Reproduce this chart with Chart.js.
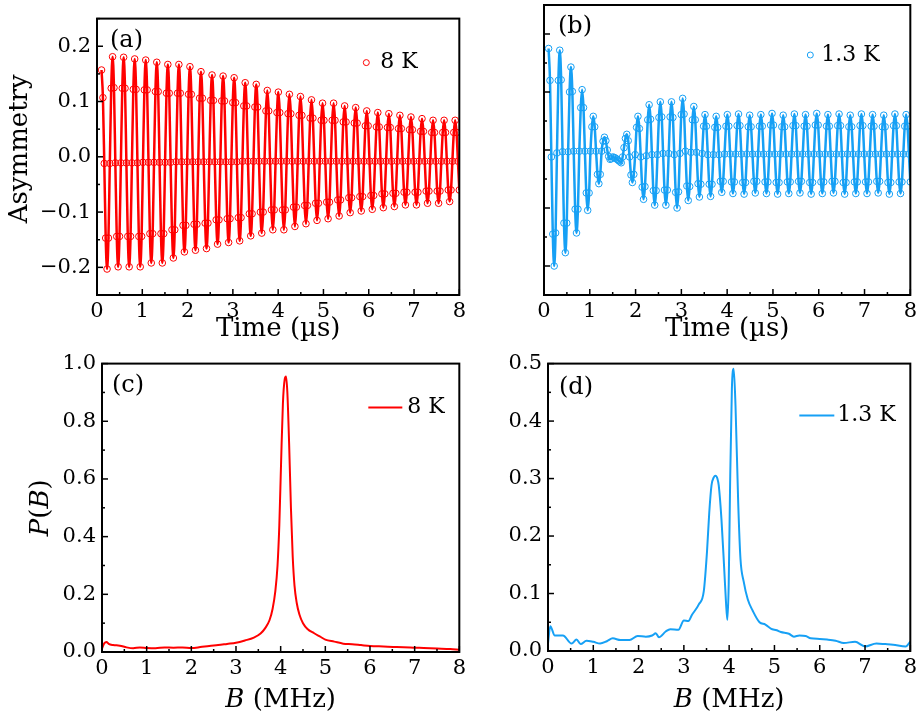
<!DOCTYPE html>
<html>
<head>
<meta charset="utf-8">
<script src="https://cdn.jsdelivr.net/npm/chart.js@4.4.0/dist/chart.umd.min.js"></script>
<style>
  body { margin: 0; background: #fff; }
  #wrap { position: relative; width: 921px; height: 717px; }
  canvas { position: absolute; }
</style>
</head>
<body>
<div id="wrap">
  <canvas id="cA" width="470" height="355" style="left:0;top:0;width:470px;height:355px"></canvas>
  <canvas id="cB" width="451" height="355" style="left:470px;top:0;width:451px;height:355px"></canvas>
  <canvas id="cC" width="470" height="372" style="left:0;top:345px;width:470px;height:372px"></canvas>
  <canvas id="cD" width="451" height="372" style="left:470px;top:345px;width:451px;height:372px"></canvas>
</div>
<script>
// ---- data ----
// time (us); one row = one precession period, 8 samples per row
const timeUs = [
  0.100,0.131,0.161,0.192,0.222,0.253,0.283,0.314,
  0.344,0.375,0.405,0.436,0.466,0.497,0.527,0.558,
  0.588,0.619,0.649,0.680,0.710,0.741,0.771,0.802,
  0.832,0.863,0.893,0.924,0.954,0.985,1.015,1.046,
  1.076,1.107,1.137,1.168,1.198,1.229,1.259,1.290,
  1.320,1.351,1.381,1.412,1.442,1.473,1.503,1.534,
  1.564,1.595,1.625,1.656,1.686,1.717,1.747,1.778,
  1.808,1.839,1.869,1.900,1.930,1.961,1.991,2.022,
  2.052,2.083,2.113,2.144,2.174,2.205,2.235,2.266,
  2.296,2.327,2.357,2.388,2.418,2.449,2.479,2.510,
  2.540,2.571,2.601,2.632,2.662,2.693,2.723,2.754,
  2.784,2.815,2.845,2.876,2.906,2.937,2.967,2.998,
  3.028,3.059,3.089,3.120,3.150,3.181,3.211,3.242,
  3.272,3.303,3.333,3.364,3.394,3.425,3.455,3.486,
  3.516,3.547,3.577,3.608,3.638,3.669,3.699,3.730,
  3.760,3.791,3.821,3.852,3.882,3.913,3.943,3.974,
  4.004,4.035,4.065,4.096,4.126,4.157,4.187,4.218,
  4.248,4.279,4.309,4.340,4.370,4.401,4.431,4.462,
  4.492,4.523,4.553,4.584,4.614,4.645,4.675,4.706,
  4.736,4.767,4.797,4.828,4.858,4.889,4.919,4.950,
  4.980,5.011,5.041,5.072,5.102,5.133,5.163,5.194,
  5.224,5.255,5.285,5.316,5.346,5.377,5.407,5.438,
  5.468,5.499,5.529,5.560,5.590,5.621,5.651,5.682,
  5.712,5.743,5.773,5.804,5.834,5.865,5.895,5.926,
  5.956,5.987,6.017,6.048,6.078,6.109,6.139,6.170,
  6.200,6.231,6.261,6.292,6.322,6.353,6.383,6.414,
  6.444,6.475,6.505,6.536,6.566,6.597,6.627,6.658,
  6.688,6.719,6.749,6.780,6.810,6.841,6.871,6.902,
  6.932,6.963,6.993,7.024,7.054,7.085,7.115,7.146,
  7.176,7.207,7.237,7.268,7.298,7.329,7.359,7.390,
  7.420,7.451,7.481,7.512,7.542,7.573,7.603,7.634,
  7.664,7.695,7.725,7.756,7.786,7.817,7.847,7.878,
  7.908,7.939,7.969,8.000
];

// asymmetry at 8 K, panel (a)
const asym8K = [
  0.157, 0.107,-0.012,-0.147,-0.203,-0.147,-0.012, 0.124,
  0.181, 0.125,-0.011,-0.144,-0.199,-0.144,-0.011, 0.124,
  0.180, 0.124,-0.011,-0.144,-0.199,-0.144,-0.011, 0.122,
  0.177, 0.122,-0.011,-0.144,-0.199,-0.144,-0.010, 0.121,
  0.175, 0.121,-0.010,-0.139,-0.192,-0.139,-0.010, 0.118,
  0.171, 0.118,-0.010,-0.139,-0.192,-0.139,-0.010, 0.115,
  0.167, 0.115,-0.010,-0.132,-0.183,-0.132,-0.009, 0.115,
  0.167, 0.115,-0.009,-0.124,-0.172,-0.124,-0.009, 0.113,
  0.163, 0.113,-0.009,-0.122,-0.169,-0.122,-0.009, 0.106,
  0.154, 0.106,-0.009,-0.120,-0.166,-0.120,-0.009, 0.102,
  0.148, 0.102,-0.009,-0.114,-0.158,-0.114,-0.009, 0.101,
  0.146, 0.101,-0.009,-0.112,-0.155,-0.112,-0.009, 0.098,
  0.143, 0.098,-0.009,-0.110,-0.152,-0.110,-0.008, 0.092,
  0.134, 0.092,-0.008,-0.103,-0.143,-0.103,-0.008, 0.090,
  0.131, 0.090,-0.008,-0.100,-0.138,-0.100,-0.008, 0.083,
  0.120, 0.083,-0.008,-0.096,-0.132,-0.096,-0.008, 0.080,
  0.117, 0.080,-0.008,-0.096,-0.132,-0.096,-0.008, 0.078,
  0.113, 0.078,-0.008,-0.091,-0.126,-0.091,-0.008, 0.075,
  0.109, 0.075,-0.008,-0.088,-0.121,-0.088,-0.008, 0.070,
  0.103, 0.070,-0.008,-0.084,-0.115,-0.084,-0.008, 0.066,
  0.097, 0.066,-0.008,-0.082,-0.112,-0.082,-0.008, 0.066,
  0.097, 0.066,-0.008,-0.078,-0.107,-0.078,-0.008, 0.063,
  0.092, 0.063,-0.008,-0.074,-0.101,-0.074,-0.008, 0.061,
  0.089, 0.061,-0.008,-0.072,-0.098,-0.072,-0.008, 0.056,
  0.083, 0.056,-0.008,-0.070,-0.095,-0.070,-0.008, 0.054,
  0.080, 0.054,-0.008,-0.067,-0.092,-0.067,-0.008, 0.053,
  0.078, 0.053,-0.008,-0.066,-0.090,-0.066,-0.008, 0.051,
  0.075, 0.051,-0.008,-0.064,-0.087,-0.064,-0.008, 0.049,
  0.072, 0.049,-0.008,-0.064,-0.087,-0.064,-0.008, 0.046,
  0.069, 0.046,-0.008,-0.062,-0.084,-0.062,-0.008, 0.044,
  0.066, 0.044,-0.008,-0.062,-0.084,-0.062,-0.008, 0.044,
  0.066, 0.044,-0.008,-0.060,-0.081,-0.060,-0.008, 0.044,
  0.066, 0.044,-0.008,-0.060
];

// asymmetry at 1.3 K, panel (b)
const asym13K = [
  0.175, 0.120,-0.012,-0.145,-0.200,-0.143,-0.005, 0.120,
  0.172, 0.121,-0.003,-0.126,-0.177,-0.126,-0.003, 0.100,
  0.143, 0.101,-0.002,-0.102,-0.143,-0.102,-0.002, 0.073,
  0.104, 0.073,-0.002,-0.074,-0.104,-0.074,-0.002, 0.040,
  0.058, 0.040,-0.002,-0.042,-0.058,-0.042,-0.002, 0.015,
  0.022, 0.016, 0.000,-0.011,-0.016,-0.015,-0.012,-0.013,
 -0.014,-0.016,-0.018,-0.020,-0.022,-0.012, 0.004, 0.020,
  0.027, 0.016,-0.012,-0.043,-0.056,-0.042,-0.008, 0.039,
  0.058, 0.037,-0.012,-0.064,-0.085,-0.063,-0.010, 0.052,
  0.078, 0.053,-0.008,-0.070,-0.095,-0.070,-0.008, 0.056,
  0.083, 0.057,-0.006,-0.069,-0.095,-0.069,-0.006, 0.057,
  0.083, 0.056,-0.008,-0.073,-0.100,-0.072,-0.006, 0.061,
  0.089, 0.062,-0.002,-0.062,-0.087,-0.063,-0.004, 0.052,
  0.075, 0.052,-0.004,-0.058,-0.081,-0.059,-0.006, 0.041,
  0.061, 0.041,-0.008,-0.059,-0.080,-0.059,-0.008, 0.039,
  0.058, 0.039,-0.008,-0.054,-0.073,-0.054,-0.007, 0.041,
  0.061, 0.041,-0.007,-0.055,-0.075,-0.055,-0.007, 0.042,
  0.062, 0.042,-0.007,-0.056,-0.076,-0.056,-0.007, 0.040,
  0.060, 0.040,-0.007,-0.054,-0.074,-0.054,-0.007, 0.041,
  0.061, 0.041,-0.007,-0.055,-0.075,-0.055,-0.007, 0.043,
  0.063, 0.043,-0.007,-0.056,-0.076,-0.056,-0.007, 0.040,
  0.060, 0.040,-0.007,-0.055,-0.075,-0.055,-0.007, 0.042,
  0.062, 0.042,-0.007,-0.054,-0.074,-0.054,-0.007, 0.041,
  0.061, 0.041,-0.007,-0.056,-0.076,-0.056,-0.007, 0.043,
  0.063, 0.043,-0.007,-0.055,-0.075,-0.055,-0.007, 0.041,
  0.061, 0.041,-0.007,-0.054,-0.074,-0.054,-0.007, 0.042,
  0.062, 0.042,-0.007,-0.056,-0.076,-0.056,-0.007, 0.040,
  0.060, 0.040,-0.007,-0.055,-0.075,-0.055,-0.007, 0.042,
  0.062, 0.042,-0.007,-0.055,-0.075,-0.055,-0.007, 0.041,
  0.061, 0.041,-0.007,-0.054,-0.074,-0.054,-0.007, 0.040,
  0.060, 0.040,-0.007,-0.056,-0.076,-0.056,-0.007, 0.042,
  0.062, 0.042,-0.007,-0.055,-0.075,-0.055,-0.007, 0.041,
  0.061, 0.041,-0.007,-0.055
];

// field distributions P(B), panels (c) and (d)
const freq8K = [0.00,0.05,0.10,0.15,0.25,0.40,0.55,0.70,0.85,1.00,1.20,1.40,1.60,1.80,2.00,
  2.20,2.40,2.60,2.80,3.00,3.20,3.40,3.55,3.65,3.75,3.82,3.88,3.93,3.97,4.01,4.05,4.09,4.12,
  4.15,4.19,4.23,4.27,4.31,4.36,4.42,4.50,4.60,4.75,4.90,5.00,5.20,5.40,5.60,5.80,6.00,
  6.30,6.60,6.90,7.20,7.50,7.80,8.00];
const spec8K = [0.012,0.030,0.035,0.028,0.024,0.022,0.016,0.013,0.016,0.014,0.013,0.016,0.015,0.016,0.014,
  0.017,0.021,0.024,0.028,0.032,0.040,0.050,0.064,0.082,0.110,0.150,0.210,0.300,0.440,0.660,0.860,0.945,0.955,
  0.900,0.720,0.500,0.330,0.230,0.170,0.130,0.100,0.080,0.065,0.052,0.043,0.036,0.029,0.027,0.024,0.021,
  0.019,0.017,0.016,0.014,0.012,0.010,0.008];

const freq13K = [0.00,0.05,0.15,0.33,0.52,0.63,0.72,0.85,1.00,1.15,1.30,1.43,1.60,1.80,1.98,2.16,2.30,
  2.38,2.45,2.60,2.70,2.88,3.00,3.10,3.18,3.33,3.44,3.51,3.56,3.61,3.66,3.70,3.74,3.77,3.83,3.89,
  3.93,3.96,3.99,4.02,4.06,4.10,4.14,4.20,4.25,4.32,4.41,4.52,4.67,4.80,4.92,5.05,5.14,5.32,5.43,
  5.55,5.69,5.80,6.00,6.16,6.35,6.53,6.78,7.00,7.25,7.45,7.62,7.90,8.00];
const spec13K = [0.013,0.043,0.027,0.027,0.013,0.020,0.012,0.018,0.016,0.013,0.017,0.022,0.019,0.019,0.026,0.025,0.027,
  0.031,0.024,0.034,0.038,0.037,0.053,0.052,0.063,0.081,0.104,0.172,0.240,0.288,0.302,0.305,0.300,0.288,0.229,0.144,
  0.085,0.054,0.116,0.286,0.456,0.491,0.427,0.257,0.160,0.121,0.090,0.070,0.050,0.046,0.039,0.036,0.033,0.030,0.025,
  0.027,0.026,0.022,0.021,0.020,0.018,0.014,0.016,0.008,0.013,0.012,0.011,0.008,0.016];

// labelled (major) ticks
const xMajorTicks = [0, 1, 2, 3, 4, 5, 6, 7, 8];
const asymTicks = [-0.2, -0.1, 0.0, 0.1, 0.2];
const pb8KTicks = [0.0, 0.2, 0.4, 0.6, 0.8, 1.0];
const pb13KTicks = [0.0, 0.1, 0.2, 0.3, 0.4, 0.5];

// ---- styling ----
const SERIF = '"DejaVu Serif", serif';
const RED = 'rgb(255,0,0)';
const BLUE = 'rgb(22,160,245)';
const TITLE_PX = 26;

function isIn(list, v) {
  return list.some(m => Math.abs(m - v) < 1e-7);
}
function fmt1(v) {
  return v.toFixed(1).replace('-', '\u2212');
}
function pairs(xs, ys) {
  return xs.map((x, i) => ({ x: x, y: ys[i] }));
}

// draw text made of upright / italic pieces, centred on (x, y)
function drawRich(ctx, parts, x, y, vertical) {
  const fontOf = p => (p[1] ? 'italic ' : '') + TITLE_PX + 'px ' + SERIF;
  let total = 0;
  parts.forEach(p => { ctx.font = fontOf(p); total += ctx.measureText(p[0]).width; });
  ctx.save();
  ctx.translate(x, y);
  if (vertical) ctx.rotate(-Math.PI / 2);
  ctx.textAlign = 'left';
  ctx.textBaseline = 'alphabetic';
  ctx.fillStyle = '#000';
  let cx = -total / 2;
  parts.forEach(p => {
    ctx.font = fontOf(p);
    ctx.fillText(p[0], cx, 0);
    cx += ctx.measureText(p[0]).width;
  });
  ctx.restore();
}

// box frame, inward ticks, panel tag, legend and axis titles
const panelPlugin = {
  id: 'panel',
  afterDraw(chart, args, o) {
    const ctx = chart.ctx, a = chart.chartArea;
    const xs = chart.scales.x, ys = chart.scales.y;
    ctx.save();
    ctx.strokeStyle = '#000';
    ctx.lineWidth = 1.5;
    xs.ticks.forEach(t => {
      const p = xs.getPixelForValue(t.value);
      const len = isIn(o.xMajor, t.value) ? 6 : 3;
      ctx.beginPath(); ctx.moveTo(p, a.bottom); ctx.lineTo(p, a.bottom - len); ctx.stroke();
    });
    ys.ticks.forEach(t => {
      const p = ys.getPixelForValue(t.value);
      const len = isIn(o.yMajor, t.value) ? 6 : 3;
      ctx.beginPath(); ctx.moveTo(a.left, p); ctx.lineTo(a.left + len, p); ctx.stroke();
    });
    ctx.lineWidth = 2;
    ctx.strokeRect(a.left, a.top, a.right - a.left, a.bottom - a.top);

    // (a), (b) ...
    ctx.fillStyle = '#000';
    ctx.font = '24px ' + SERIF;
    ctx.textAlign = 'left';
    ctx.textBaseline = 'alphabetic';
    ctx.fillText(o.tag, a.left + o.tagDx, a.top + o.tagDy);

    // legend
    const ds = chart.data.datasets[0];
    const ly = a.top + o.legDy;
    ctx.strokeStyle = ds.borderColor;
    if (o.legLine) {
      ctx.lineWidth = 2;
      ctx.beginPath();
      ctx.moveTo(a.right - o.legX1, ly);
      ctx.lineTo(a.right - o.legX2, ly);
      ctx.stroke();
    } else {
      ctx.lineWidth = 1;
      ctx.beginPath();
      ctx.arc(a.right - o.legX1, ly, 3, 0, Math.PI * 2);
      ctx.stroke();
    }
    ctx.fillStyle = '#000';
    ctx.font = '22px ' + SERIF;
    ctx.textBaseline = 'middle';
    ctx.fillText(ds.label, a.right - o.legTextDx, ly);

    if (o.xTitle) drawRich(ctx, o.xTitle, (a.left + a.right) / 2, o.xTitleY, false);
    if (o.yTitle) drawRich(ctx, o.yTitle, o.yTitleX, (a.top + a.bottom) / 2 + o.yTitleDy, true);
    ctx.restore();
  }
};

function makeChart(id, cfg) {
  const tickFont = { family: SERIF, size: 21 };
  return new Chart(document.getElementById(id), {
    type: 'line',
    data: { datasets: cfg.datasets },
    options: {
      responsive: false,
      animation: false,
      layout: { padding: { top: cfg.padTop, right: cfg.padRight, left: 0, bottom: 0 } },
      scales: {
        x: {
          type: 'linear', min: 0, max: 8,
          grid: { display: false, drawTicks: false },
          border: { display: false },
          ticks: {
            stepSize: 0.5, autoSkip: false, maxRotation: 0, padding: 4,
            color: '#000', font: tickFont,
            callback: v => isIn(xMajorTicks, v) ? String(Math.round(v)) : ''
          },
          afterFit: s => { s.height = cfg.xAxisH; }
        },
        y: {
          type: 'linear', min: cfg.yMin, max: cfg.yMax,
          grid: { display: false, drawTicks: false },
          border: { display: false },
          ticks: {
            display: cfg.yLabels, stepSize: cfg.yStep, autoSkip: false, padding: 6,
            color: '#000', font: tickFont,
            callback: v => isIn(cfg.yMajor, v) ? fmt1(v) : ''
          },
          afterFit: s => { s.width = cfg.yAxisW; }
        }
      },
      plugins: {
        legend: { display: false },
        tooltip: { enabled: false },
        panel: Object.assign({ xMajor: xMajorTicks, yMajor: cfg.yMajor }, cfg.deco)
      }
    },
    plugins: [panelPlugin]
  });
}

function asymSets(label, color, values) {
  const pts = pairs(timeUs, values);
  return [
    { label: label, data: pts, showLine: false, borderColor: color,
      pointRadius: 3.3, pointBorderWidth: 1, pointBorderColor: color,
      pointBackgroundColor: 'rgba(0,0,0,0)' },
    { label: 'fit', data: pts, borderColor: color, borderWidth: 2.5,
      pointRadius: 0, cubicInterpolationMode: 'monotone' }
  ];
}

function specSets(label, color, xs, ys) {
  return [
    { label: label, data: pairs(xs, ys), borderColor: color, borderWidth: 2,
      pointRadius: 0, cubicInterpolationMode: 'monotone' }
  ];
}

const timeTitle = [['Time (\u00b5s)', false]];
const fieldTitle = [['B', true], [' (MHz)', false]];

makeChart('cA', {
  datasets: asymSets('8 K', RED, asym8K),
  padTop: 2, padRight: 6, xAxisH: 60, yAxisW: 97,
  yMin: -0.25, yMax: 0.25, yStep: 0.05, yMajor: asymTicks, yLabels: true,
  deco: { tag: '(a)', tagDx: 13, tagDy: 28, legDy: 44, legX1: 93, legTextDx: 79,
          xTitle: timeTitle, xTitleY: 336,
          yTitle: [['Asymmetry', false]], yTitleX: 27, yTitleDy: -8 }
});

makeChart('cB', {
  datasets: asymSets('1.3 K', BLUE, asym13K),
  padTop: 2, padRight: 10, xAxisH: 60, yAxisW: 74,
  yMin: -0.25, yMax: 0.25, yStep: 0.05, yMajor: asymTicks, yLabels: false,
  deco: { tag: '(b)', tagDx: 14, tagDy: 28, legDy: 50, legX1: 100, legTextDx: 89,
          xTitle: timeTitle, xTitleY: 336 }
});

makeChart('cC', {
  datasets: specSets('8 K', RED, freq8K, spec8K),
  padTop: 14, padRight: 2, xAxisH: 65, yAxisW: 102,
  yMin: 0, yMax: 1.0, yStep: 0.1, yMajor: pb8KTicks, yLabels: true,
  deco: { tag: '(c)', tagDx: 10, tagDy: 28, legLine: true, legDy: 44, legX1: 91, legX2: 57, legTextDx: 52,
          xTitle: fieldTitle, xTitleY: 362,
          yTitle: [['P', true], ['(', false], ['B', true], [')', false]], yTitleX: 48, yTitleDy: 0 }
});

makeChart('cD', {
  datasets: specSets('1.3 K', BLUE, freq13K, spec13K),
  padTop: 12, padRight: 7, xAxisH: 66, yAxisW: 78,
  yMin: 0, yMax: 0.5, yStep: 0.05, yMajor: pb13KTicks, yLabels: true,
  deco: { tag: '(d)', tagDx: 11, tagDy: 30, legLine: true, legDy: 52, legX1: 111, legX2: 76, legTextDx: 73,
          xTitle: fieldTitle, xTitleY: 362 }
});
</script>
</body>
</html>
